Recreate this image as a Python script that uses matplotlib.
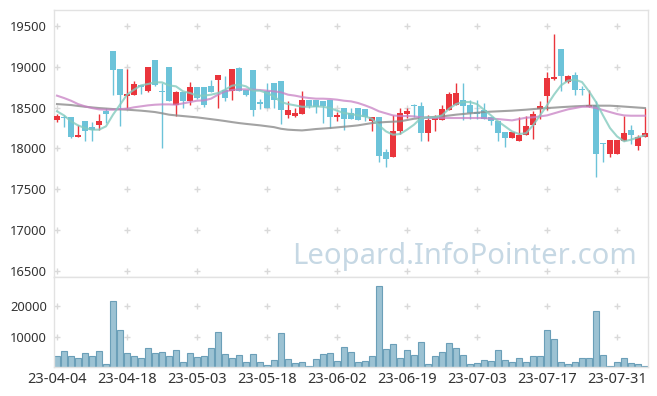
import matplotlib
matplotlib.use("Agg")
import matplotlib.pyplot as plt
import numpy as np

# --- daily OHLC ---
opens = [18351, 18384, 18384, 18143, 18331, 18257, 18290, 18454, 19197, 18977,
         18642, 18658, 18772, 18699, 19079, 18699, 18993, 18535, 18687, 18584,
         18748, 18748, 18760, 18842, 18719, 18699, 18985, 18719, 18960, 18568,
         18707, 18801, 18822, 18413, 18392, 18421, 18597, 18597, 18576, 18597,
         18384, 18494, 18433, 18494, 18482, 18339, 18380, 17955, 17889, 18208,
         18421, 18523, 18515, 18188, 18351, 18351, 18474, 18535, 18597, 18527,
         18445, 18474, 18380, 18331, 18200, 18127, 18094, 18167, 18290, 18486,
         18637, 18854, 19218, 18809, 18895, 18727, 18503, 18527, 18065, 17930,
         17930, 18094, 18229, 18024, 18135]
highs = [18421, 18405, 18384, 18282, 18331, 18323, 18421, 18495, 19197, 18977,
         18977, 18830, 18772, 18993, 19079, 18801, 18993, 18699, 18687, 18813,
         18748, 18748, 18842, 18895, 18883, 18969, 18993, 18719, 18960, 18609,
         18801, 18801, 18822, 18584, 18494, 18699, 18597, 18597, 18576, 18597,
         18445, 18494, 18494, 18494, 18482, 18380, 18380, 17996, 18404, 18494,
         18494, 18547, 18568, 18404, 18404, 18527, 18690, 18801, 18801, 18597,
         18597, 18556, 18380, 18331, 18200, 18200, 18380, 18392, 18462, 18584,
         18936, 19402, 19218, 18895, 18936, 18760, 18719, 18584, 18065, 18098,
         18106, 18392, 18282, 18167, 18494]
lows = [18318, 18257, 18127, 18143, 18094, 18094, 18229, 18311, 18658, 18270,
        18495, 18658, 18666, 18687, 18760, 18004, 18576, 18392, 18495, 18535,
        18609, 18503, 18691, 18495, 18576, 18597, 18707, 18638, 18392, 18486,
        18495, 18495, 18298, 18372, 18380, 18421, 18494, 18433, 18310, 18249,
        18339, 18229, 18363, 18351, 18339, 18208, 17828, 17771, 17889, 18176,
        18372, 18380, 18094, 18094, 18208, 18351, 18474, 18535, 18351, 18363,
        18363, 18363, 18290, 18086, 18012, 18127, 18094, 18159, 18118, 18363,
        18474, 18842, 18699, 18801, 18658, 18658, 18503, 17644, 17828, 17889,
        17930, 18094, 18053, 17983, 18135]
closes = [18400, 18375, 18143, 18163, 18217, 18221, 18339, 18425, 18965, 18658,
          18670, 18789, 18752, 18993, 18781, 18691, 18584, 18691, 18584, 18748,
          18617, 18535, 18691, 18895, 18617, 18969, 18707, 18658, 18474, 18548,
          18495, 18597, 18474, 18470, 18433, 18597, 18515, 18506, 18515, 18388,
          18413, 18363, 18363, 18351, 18380, 18380, 17910, 17873, 18208, 18433,
          18454, 18515, 18188, 18351, 18380, 18482, 18666, 18678, 18523, 18433,
          18421, 18363, 18331, 18188, 18127, 18200, 18167, 18270, 18421, 18515,
          18862, 18870, 18883, 18883, 18719, 18711, 18527, 17930, 18057, 18098,
          18106, 18188, 18167, 18135, 18188]
volumes = [3690, 5320, 3690, 3040, 4670, 3690, 5320, 980, 21600, 12160,
           4670, 3690, 3040, 6300, 4670, 5000, 3690, 5650, 1740, 4670,
           3360, 3690, 6300, 11510, 4350, 3040, 4020, 1740, 4350, 1740,
           760, 2390, 11190, 2710, 1410, 1740, 430, 2710, 4350, 4670,
           2060, 6500, 5000, 1630, 1950, 3800, 26390, 6080, 7710, 3150,
           5760, 4130, 8360, 1190, 3800, 5100, 8040, 6400, 4130, 1190,
           1520, 2500, 2170, 5760, 2500, 1850, 3150, 1850, 3800, 3800,
           12270, 9340, 1850, 1190, 1850, 3150, 3150, 18460, 4130, 540,
           1850, 3150, 1520, 1190, 330]

# --- moving averages as drawn on the chart ---
ma5 = [18454, 18404, 18331, 18282, 18249, 18229, 18229, 18270, 18413, 18535,
       18658, 18719, 18772, 18789, 18809, 18809, 18772, 18760, 18699, 18678,
       18646, 18646, 18658, 18678, 18719, 18768, 18781, 18760, 18707, 18707,
       18678, 18637, 18568, 18543, 18527, 18510, 18510, 18515, 18510, 18494,
       18462, 18433, 18421, 18404, 18392, 18363, 18282, 18208, 18167, 18176,
       18229, 18290, 18372, 18380, 18380, 18404, 18486, 18543, 18568, 18568,
       18543, 18474, 18404, 18331, 18270, 18208, 18176, 18185, 18282, 18404,
       18527, 18658, 18772, 18830, 18842, 18813, 18699, 18568, 18404, 18249,
       18147, 18086, 18106, 18135, 18159]
ma20 = [18646, 18617, 18584, 18543, 18515, 18494, 18478, 18474, 18474, 18482,
        18486, 18503, 18515, 18527, 18535, 18539, 18539, 18535, 18551, 18568,
        18584, 18588, 18609, 18658, 18699, 18715, 18723, 18723, 18719, 18715,
        18707, 18699, 18687, 18658, 18646, 18629, 18617, 18609, 18609, 18605,
        18597, 18584, 18576, 18556, 18527, 18494, 18454, 18429, 18404, 18396,
        18396, 18392, 18380, 18372, 18372, 18372, 18372, 18372, 18372, 18372,
        18372, 18372, 18363, 18359, 18351, 18343, 18359, 18376, 18380, 18392,
        18404, 18429, 18454, 18478, 18494, 18510, 18510, 18494, 18470, 18445,
        18421, 18404, 18400, 18400, 18400]
ma60 = [18543, 18537, 18531, 18520, 18510, 18502, 18494, 18488, 18482, 18478,
        18474, 18468, 18462, 18454, 18445, 18430, 18413, 18404, 18396, 18388,
        18380, 18369, 18358, 18347, 18335, 18322, 18310, 18300, 18291, 18282,
        18271, 18260, 18240, 18229, 18224, 18220, 18228, 18237, 18243, 18249,
        18257, 18265, 18273, 18282, 18296, 18310, 18317, 18323, 18327, 18331,
        18347, 18363, 18372, 18380, 18386, 18392, 18402, 18413, 18421, 18429,
        18437, 18445, 18450, 18454, 18458, 18462, 18468, 18474, 18481, 18488,
        18494, 18499, 18505, 18510, 18515, 18519, 18523, 18523, 18523, 18523,
        18518, 18512, 18506, 18500, 18494]

tick_pos = [0, 10, 20, 30, 40, 50, 60, 70, 80]
tick_labels = ['23-04-04', '23-04-18', '23-05-03', '23-05-18', '23-06-02',
               '23-06-19', '23-07-03', '23-07-17', '23-07-31']
price_ticks = [16500, 17000, 17500, 18000, 18500, 19000, 19500]
vol_ticks = [10000, 20000]

plt.rcParams['font.family'] = ['Noto Sans', 'DejaVu Sans']

UP = '#ea353c'
DOWN = '#6cc3d9'
GRID = '#d9d9d9'
SPINE = '#e2e2e2'

o = np.array(opens); h = np.array(highs); l = np.array(lows); c = np.array(closes)
x = np.arange(len(c))
cols = [UP if cc >= oo else DOWN for oo, cc in zip(o, c)]

W, H = 657, 396
fig = plt.figure(figsize=(W / 100, H / 100), dpi=100)
ax = fig.add_axes([54 / W, 1 - 277 / H, 594 / W, 267 / H])
axv = fig.add_axes([54 / W, 1 - 367.4 / H, 594 / W, 90.4 / H], sharex=ax)

# grid crosses
gx, gy = np.meshgrid(tick_pos, price_ticks)
ax.plot(gx.ravel(), gy.ravel(), '+', color=GRID, ms=5, mew=1, zorder=0)
gx, gy = np.meshgrid(tick_pos, vol_ticks)
axv.plot(gx.ravel(), gy.ravel(), '+', color=GRID, ms=5, mew=1, zorder=0)

# candles
ax.vlines(x, l, h, colors=cols, lw=1, zorder=2)
body = np.maximum(np.abs(c - o), 14)
ax.bar(x, body, bottom=np.minimum(o, c), width=0.72, color=cols, lw=0, zorder=3)

# moving averages
ax.plot(x, ma60, color='#8c8c8c', lw=1.5, alpha=0.8, zorder=4)
ax.plot(x, ma20, color='#c880c4', lw=1.5, alpha=0.75, zorder=4)
ax.plot(x, ma5, color='#83cbbf', lw=1.5, alpha=0.8, zorder=4)

# watermark
ax.text(0.982, 0.05, 'Leopard.InfoPointer.com', transform=ax.transAxes,
        ha='right', va='baseline', fontsize=21, color='#c6d8e4', zorder=1)

# volume
axv.bar(x, volumes, width=0.92, color='#9cc2d3', edgecolor='#6b9fb8', lw=0.8, zorder=2)

ax.set_xlim(-0.43, 84.43)
ax.set_ylim(16423, 19696)
axv.set_ylim(0, 29450)

ax.set_yticks(price_ticks)
axv.set_yticks(vol_ticks)
axv.set_xticks(tick_pos)
axv.set_xticklabels(tick_labels)
ax.tick_params(axis='x', labelbottom=False, length=0)
ax.tick_params(axis='y', length=0, pad=5, labelsize=9.3, labelcolor='#333333')
axv.tick_params(length=0, pad=5, labelsize=9.3, labelcolor='#333333')
axv.tick_params(axis='x', pad=3.5, labelsize=10.5)

for a in (ax, axv):
    for s in a.spines.values():
        s.set_color(SPINE)
        s.set_linewidth(1)

fig.savefig('out.png', dpi=100)
